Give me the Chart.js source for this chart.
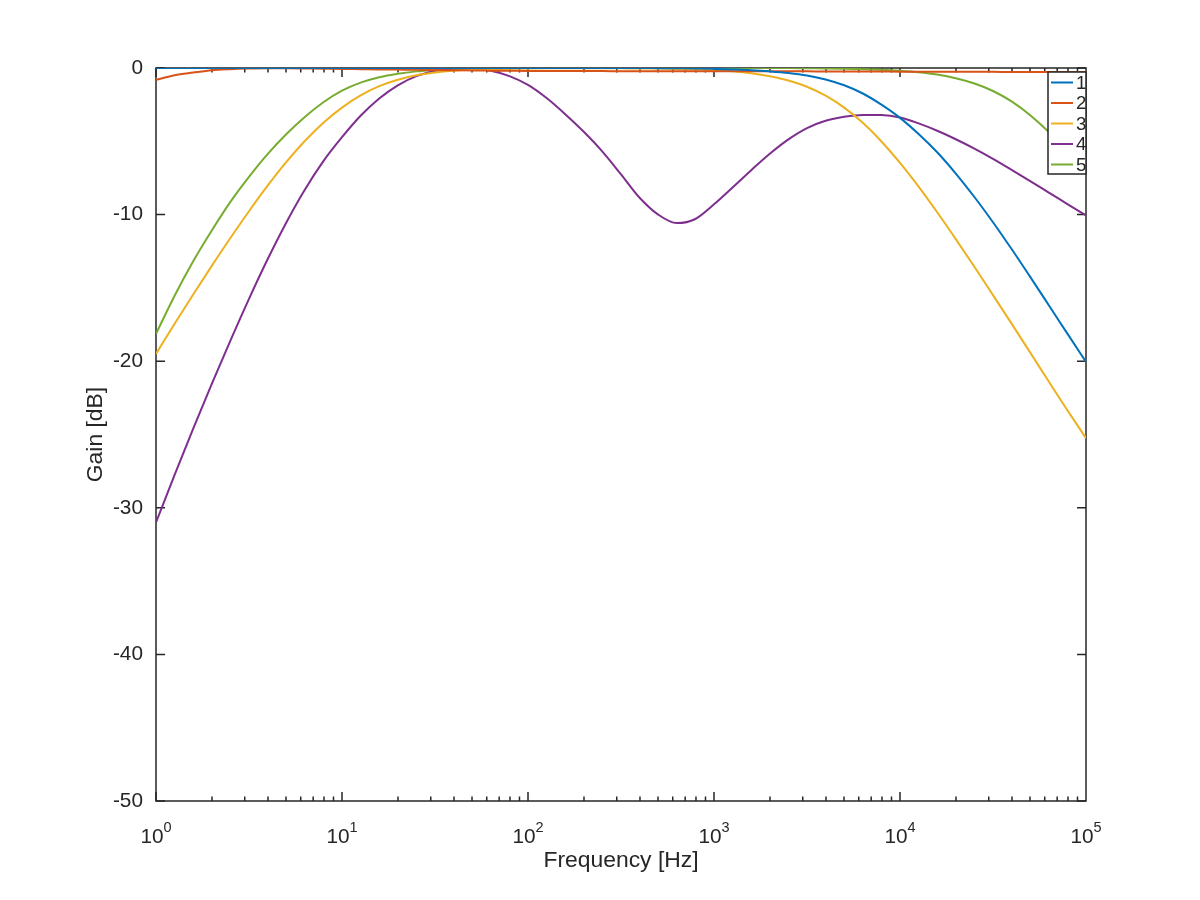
<!DOCTYPE html>
<html>
<head>
<meta charset="utf-8">
<script src="https://cdn.jsdelivr.net/npm/chart.js@4.4.1/dist/chart.umd.min.js"></script>
<style>
html,body{margin:0;padding:0;background:#ffffff;}
#wrap{width:1200px;height:900px;position:relative;}
</style>
</head>
<body>
<div id="wrap"><canvas id="c" width="1200" height="900"></canvas></div>
<script>
// ---- data (10 points per decade) ----
const freqs = [1, 1.259, 1.585, 1.995, 2.512, 3.162, 3.981, 5.012, 6.31, 7.943,
               10, 12.59, 15.85, 19.95, 25.12, 31.62, 39.81, 50.12, 63.1, 79.43,
               100, 125.9, 158.5, 199.5, 251.2, 316.2, 398.1, 501.2, 631, 794.3,
               1000, 1259, 1585, 1995, 2512, 3162, 3981, 5012, 6310, 7943,
               10000, 12590, 15850, 19950, 25120, 31620, 39810, 50120, 63100, 79430,
               100000];
const gain1 = [0, 0, 0, 0, 0, 0, 0, 0, 0, 0,
               0, 0, 0, 0, 0, 0, 0, 0, 0, 0,
               0, 0, 0, 0, 0, 0, 0, -0.01, -0.02, -0.03,
               -0.06, -0.1, -0.15, -0.23, -0.34, -0.51, -0.78, -1.18, -1.74, -2.5,
               -3.4, -4.5, -5.75, -7.2, -8.8, -10.52, -12.35, -14.25, -16.18, -18.12,
               -20.05];
const gain2 = [-0.81, -0.49, -0.31, -0.15, -0.08, -0.04, -0.02, -0.02, -0.03, -0.05,
               -0.06, -0.08, -0.1, -0.11, -0.12, -0.14, -0.15, -0.17, -0.18, -0.19,
               -0.2, -0.2, -0.21, -0.21, -0.21, -0.22, -0.22, -0.22, -0.22, -0.22,
               -0.22, -0.22, -0.23, -0.23, -0.23, -0.23, -0.24, -0.24, -0.24, -0.24,
               -0.25, -0.25, -0.25, -0.26, -0.26, -0.26, -0.27, -0.27, -0.28, -0.28,
               -0.28];
const gain3 = [-19.5, -17.45, -15.45, -13.5, -11.6, -9.77, -8.03, -6.42, -4.98, -3.73,
               -2.7, -1.87, -1.24, -0.8, -0.5, -0.31, -0.19, -0.12, -0.08, -0.05,
               -0.03, -0.02, -0.02, -0.02, -0.02, -0.02, -0.03, -0.04, -0.06, -0.09,
               -0.15, -0.23, -0.36, -0.56, -0.85, -1.28, -1.89, -2.7, -3.74, -5.01,
               -6.47, -8.09, -9.84, -11.67, -13.56, -15.49, -17.44, -19.41, -21.39, -23.35,
               -25.25];
const gain4 = [-31.0, -27.75, -24.6, -21.55, -18.6, -15.75, -13.05, -10.55, -8.3, -6.35,
               -4.72, -3.26, -2.08, -1.18, -0.55, -0.2, -0.03, -0.03, -0.19, -0.55,
               -1.15, -2.05, -3.15, -4.35, -5.7, -7.25, -8.85, -10.0, -10.58, -10.3,
               -9.3, -8.15, -6.97, -5.85, -4.87, -4.1, -3.6, -3.33, -3.2, -3.21,
               -3.38, -3.78, -4.28, -4.86, -5.5, -6.2, -6.95, -7.72, -8.5, -9.28,
               -10.06];
const gain5 = [-18.13, -15.53, -13.18, -11.08, -9.13, -7.42, -5.87, -4.52, -3.34, -2.34,
               -1.55, -1.0, -0.63, -0.39, -0.23, -0.13, -0.06, -0.02, 0, 0,
               0, 0, 0, 0, 0, 0, 0, 0, 0, 0,
               0, 0, 0, 0, 0, -0.02, -0.03, -0.05, -0.08, -0.12,
               -0.19, -0.29, -0.45, -0.7, -1.06, -1.57, -2.28, -3.22, -4.37, -5.74,
               -7.22];
const seriesLabels = ['1', '2', '3', '4', '5'];
const seriesColors = ['#0072BD', '#D95319', '#EDB120', '#7E2F8E', '#77AC30'];
const xTickValues = [1, 10, 100, 1000, 10000, 100000];
const xTickBase = '10';
const xTickExps = ['0', '1', '2', '3', '4', '5'];
const yTickValues = [0, -10, -20, -30, -40, -50];
const xTitle = 'Frequency [Hz]';
const yTitle = 'Gain [dB]';

// ---- style ----
const FONT = '"Liberation Sans", Arial, Helvetica, sans-serif';
const AX = '#262626';

const allGains = [gain1, gain2, gain3, gain4, gain5];
const datasets = allGains.map((g, i) => ({
  label: seriesLabels[i],
  data: freqs.map((f, j) => ({x: f, y: g[j]})),
  borderColor: seriesColors[i],
  backgroundColor: seriesColors[i],
  borderWidth: 2,
  pointRadius: 0,
  fill: false,
  cubicInterpolationMode: 'monotone'
}));

const framePlugin = {
  id: 'frame',
  beforeDatasetsDraw(chart) {
    const {ctx, chartArea: a, scales: {x, y}} = chart;
    ctx.save();
    ctx.strokeStyle = AX;
    ctx.lineWidth = 1.5;
    ctx.strokeRect(a.left, a.top, a.right - a.left, a.bottom - a.top);
    const major = 9, minor = 4.5;
    ctx.beginPath();
    for (let k = 0; k < 5; k++) {
      for (let m = 1; m <= 9; m++) {
        const px = x.getPixelForValue(m * Math.pow(10, k));
        const len = m === 1 ? major : minor;
        ctx.moveTo(px, a.bottom); ctx.lineTo(px, a.bottom - len);
        ctx.moveTo(px, a.top); ctx.lineTo(px, a.top + len);
      }
    }
    yTickValues.forEach(v => {
      const py = y.getPixelForValue(v);
      ctx.moveTo(a.left, py); ctx.lineTo(a.left + major, py);
      ctx.moveTo(a.right, py); ctx.lineTo(a.right - major, py);
    });
    ctx.stroke();
    // x tick labels with superscript exponents
    ctx.fillStyle = AX;
    ctx.textBaseline = 'alphabetic';
    ctx.textAlign = 'left';
    xTickValues.forEach((v, i) => {
      const px = x.getPixelForValue(v);
      ctx.font = '20.8px ' + FONT;
      const wb = ctx.measureText(xTickBase).width;
      ctx.font = '14.5px ' + FONT;
      const we = ctx.measureText(xTickExps[i]).width;
      const start = px - (wb + we) / 2;
      ctx.font = '20.8px ' + FONT;
      ctx.fillText(xTickBase, start, a.bottom + 42);
      ctx.font = '14.5px ' + FONT;
      ctx.fillText(xTickExps[i], start + wb, a.bottom + 31);
    });
    ctx.restore();
  },
  afterDatasetsDraw(chart) {
    const {ctx, chartArea: a} = chart;
    const boxW = 38, boxH = 102;
    const bx = a.right - boxW, by = a.top + 4;
    ctx.save();
    ctx.fillStyle = '#ffffff';
    ctx.fillRect(bx, by, boxW, boxH);
    ctx.strokeStyle = AX;
    ctx.lineWidth = 1.5;
    ctx.strokeRect(bx, by, boxW, boxH);
    chart.data.datasets.forEach((ds, i) => {
      const yy = by + 10.5 + i * 20.5;
      ctx.strokeStyle = ds.borderColor;
      ctx.lineWidth = 2;
      ctx.beginPath();
      ctx.moveTo(bx + 3, yy);
      ctx.lineTo(bx + 25, yy);
      ctx.stroke();
      ctx.fillStyle = AX;
      ctx.font = '18.7px ' + FONT;
      ctx.textBaseline = 'middle';
      ctx.textAlign = 'left';
      ctx.fillText(ds.label, bx + 28, yy + 1);
    });
    ctx.restore();
  }
};

new Chart(document.getElementById('c'), {
  type: 'line',
  data: {datasets},
  options: {
    responsive: false,
    animation: false,
    events: [],
    layout: {padding: {left: 0, right: 114, top: 68, bottom: 0}},
    plugins: {legend: {display: false}, tooltip: {enabled: false}},
    scales: {
      x: {
        type: 'logarithmic',
        position: 'bottom',
        min: 1,
        max: 100000,
        grid: {display: false, drawTicks: false},
        border: {display: false},
        ticks: {display: false},
        afterBuildTicks: s => { s.ticks = xTickValues.map(v => ({value: v})); },
        afterFit: s => { s.height = 99; },
        title: {display: true, text: xTitle, color: AX,
                font: {family: FONT, size: 22.9}, padding: {top: 0, bottom: 26}}
      },
      y: {
        type: 'linear',
        position: 'left',
        min: -50,
        max: 0,
        grid: {display: false, drawTicks: false},
        border: {display: false},
        afterBuildTicks: s => { s.ticks = yTickValues.map(v => ({value: v})); },
        ticks: {color: AX, font: {family: FONT, size: 20.8}, padding: 13},
        afterFit: s => { s.width = 156; },
        title: {display: true, text: yTitle, color: AX,
                font: {family: FONT, size: 22.9}, padding: {top: 82, bottom: 0}}
      }
    }
  },
  plugins: [framePlugin]
});
</script>
</body>
</html>
